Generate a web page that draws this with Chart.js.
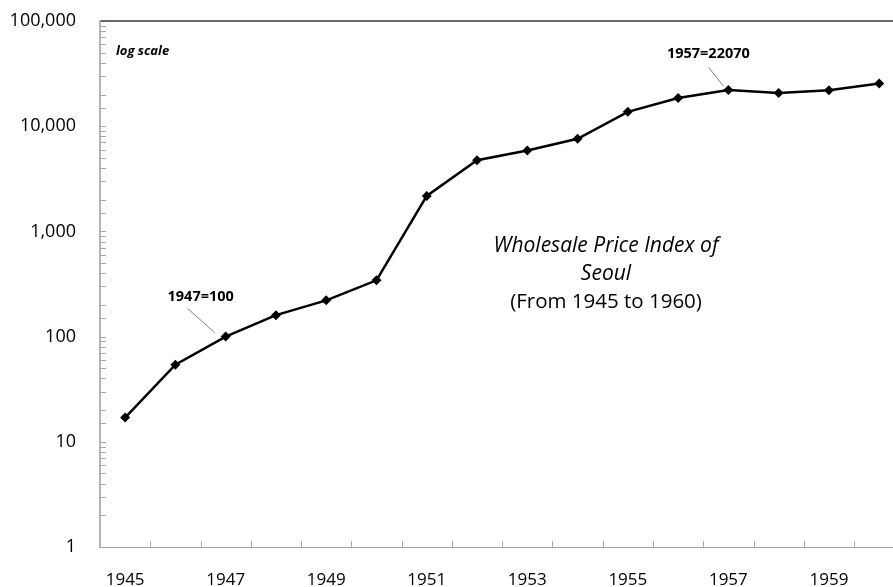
<!DOCTYPE html>
<html><head><meta charset="utf-8">
<script src="https://cdn.jsdelivr.net/npm/chart.js@4/dist/chart.umd.min.js"></script>
<style>html,body{margin:0;padding:0;background:#fff;overflow:hidden}</style>
</head><body>
<canvas id="c" width="893" height="587"></canvas>
<script>
const years = [1945,1946,1947,1948,1949,1950,1951,1952,1953,1954,1955,1956,1957,1958,1959,1960];
const wpi = [17, 54, 100, 160, 221, 343, 2175, 4755, 5870, 7590, 13700, 18500, 22070, 20640, 22000, 25470];
const yTickLabels = ['1','10','100','1,000','10,000','100,000'];
const xTickLabels = ['1945','1947','1949','1951','1953','1955','1957','1959'];
const noteLabels = [{year:1947, text:'1947=100'}, {year:1957, text:'1957=22070'}];
const titleLines = ['Wholesale Price Index of', 'Seoul', '(From 1945 to 1960)'];
const scaleNote = 'log scale';

const FONT = "'Open Sans', 'DejaVu Sans', sans-serif";

const decor = {
  id: 'decor',
  beforeDatasetsDraw(chart) {
    const ctx = chart.ctx, a = chart.chartArea;
    const xs = chart.scales.x, ys = chart.scales.y;
    ctx.save();
    ctx.strokeStyle = '#a6a6a6';
    ctx.lineWidth = 1;
    ys.ticks.forEach(t => {
      const y = Math.round(ys.getPixelForValue(t.value)) + 0.5;
      ctx.beginPath(); ctx.moveTo(a.left, y); ctx.lineTo(a.left + 6, y); ctx.stroke();
    });
    years.forEach(yr => {
      const v = yr + 0.5;
      if (v >= xs.max) return;
      const x = Math.round(xs.getPixelForValue(v)) + 0.5;
      ctx.beginPath(); ctx.moveTo(x, a.bottom); ctx.lineTo(x, a.bottom - 6); ctx.stroke();
    });
    ctx.strokeStyle = '#3a3a3a';
    ctx.lineWidth = 1.5;
    ctx.beginPath(); ctx.moveTo(a.left + 1, a.top); ctx.lineTo(a.right, a.top); ctx.stroke();
    ctx.restore();
  },
  afterDraw(chart) {
    const ctx = chart.ctx, a = chart.chartArea;
    const xs = chart.scales.x, ys = chart.scales.y;
    ctx.save();
    ctx.fillStyle = '#000';
    ctx.textAlign = 'left'; ctx.textBaseline = 'middle';
    ctx.font = `italic bold 13px ${FONT}`;
    ctx.fillText(scaleNote, a.left + 16, a.top + 30);

    const offs = [
      {lx:-25, ly:-40, x1:-38, y1:-28, x2:-11, y2:-4},
      {lx:-20, ly:-36, x1:-20, y1:-23, x2:-5, y2:-4}
    ];
    noteLabels.forEach((n, i) => {
      const idx = years.indexOf(n.year);
      const px = xs.getPixelForValue(n.year), py = ys.getPixelForValue(wpi[idx]);
      const o = offs[i];
      ctx.strokeStyle = '#7f7f7f'; ctx.lineWidth = 1;
      ctx.beginPath(); ctx.moveTo(px + o.x1, py + o.y1); ctx.lineTo(px + o.x2, py + o.y2); ctx.stroke();
      ctx.font = `bold 14.5px ${FONT}`;
      ctx.textAlign = 'center';
      ctx.fillText(n.text, px + o.lx, py + o.ly);
    });

    ctx.textAlign = 'center';
    const cx = a.left + 506;
    ctx.font = `italic 21px ${FONT}`;
    ctx.fillText(titleLines[0], cx, a.top + 225);
    ctx.fillText(titleLines[1], cx, a.top + 253);
    ctx.font = `20.5px ${FONT}`;
    ctx.fillText(titleLines[2], cx, a.top + 281);
    ctx.restore();
  }
};

new Chart(document.getElementById('c'), {
  type: 'line',
  data: {
    datasets: [{
      data: years.map((y, i) => ({x: y, y: wpi[i]})),
      borderColor: '#000',
      backgroundColor: '#000',
      borderWidth: 2.5,
      pointStyle: 'rectRot',
      pointRadius: 5,
      pointBorderWidth: 0,
      tension: 0,
      clip: false
    }]
  },
  options: {
    responsive: false,
    animation: false,
    devicePixelRatio: 1,
    layout: {autoPadding: false, padding: {top: 21, right: 0, bottom: 0, left: 0}},
    plugins: {legend: {display: false}, tooltip: {enabled: false}},
    scales: {
      x: {
        type: 'linear',
        min: 1944.5,
        max: 1960.275,
        afterBuildTicks: s => { s.ticks = xTickLabels.map(l => ({value: +l})); },
        afterFit: s => { s.height = 40; s.paddingLeft = 0; s.paddingRight = 0; },
        grid: {display: true, drawOnChartArea: false, drawTicks: false},
        border: {display: true, color: '#a0a0a0', width: 1},
        ticks: {
          autoSkip: false, maxRotation: 0, padding: 23, color: '#000',
          font: {family: FONT, size: 17},
          callback: v => String(v)
        }
      },
      y: {
        type: 'logarithmic',
        min: 1,
        max: 100000,
        afterFit: s => { s.width = 100; s.paddingTop = 0; s.paddingBottom = 0; },
        grid: {display: true, drawOnChartArea: false, drawTicks: false},
        border: {display: true, color: '#b4b4b4', width: 2},
        ticks: {
          autoSkip: false, padding: 24, color: '#000',
          font: {family: FONT, size: 18},
          callback: v => {
            const e = Math.log10(v);
            return Math.abs(e - Math.round(e)) < 1e-9 ? yTickLabels[Math.round(e)] : '';
          }
        }
      }
    }
  },
  plugins: [decor]
});
</script>
</body></html>
